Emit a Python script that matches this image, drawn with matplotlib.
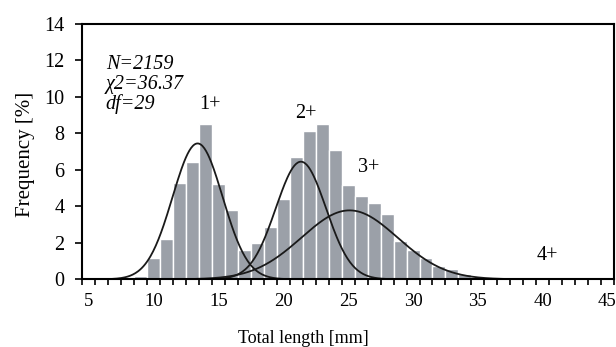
import matplotlib.pyplot as plt
import numpy as np

# length classes [mm] and observed frequency [%]
lengths = [9, 10, 11, 12, 13, 14, 15, 16, 17, 18, 19, 20, 21, 22, 23, 24,
           25, 26, 27, 28, 29, 30, 31, 32, 33, 34, 35, 36]
freq = [0.18, 1.17, 2.22, 5.28, 6.43, 8.51, 5.22, 3.80, 1.60, 2.00, 2.87, 4.40,
        6.70, 8.13, 8.51, 7.09, 5.17, 4.57, 4.18, 3.58, 2.10, 1.61, 1.15, 0.73,
        0.57, 0.29, 0.13, 0.05]

# fitted age groups (mean, sd, peak height in %)
groups = ['1+', '2+', '3+', '4+']
means = [13.38, 21.35, 25.1, 40.0]
sds = [1.93, 1.93, 3.7, 2.0]
peaks = [7.45, 6.45, 3.78, 0.02]
label_pos = [(14.3, 9.6), (21.7, 9.1), (26.6, 6.15), (40.4, 1.33)]

stats = ['N=2159', 'χ2=36.37', 'df=29']

plt.rcParams['font.family'] = ['Liberation Serif', 'DejaVu Serif']

fig = plt.figure(figsize=(6.16, 3.47), dpi=100)
ax = fig.add_axes([0.1339, 0.1951, 0.8628, 0.7357])

ax.bar(lengths, freq, width=1.0, color='#9ba0a8', edgecolor='white', linewidth=1.0)

x = np.linspace(4.5, 45.3, 600)
for m, s, p in zip(means, sds, peaks):
    ax.plot(x, p * np.exp(-(x - m) ** 2 / (2 * s ** 2)), color='#1a1a1a', lw=1.3)

for g, (gx, gy) in zip(groups, label_pos):
    ax.text(gx, gy, g, ha='center', va='center', fontsize=14.5)

for i, s in enumerate(stats):
    ax.text(6.3, 11.8 - i * 1.1, s, ha='left', va='center', fontsize=14.5, style='italic')

ax.set_xlim(4.5, 45.5)
ax.set_ylim(0, 14)
ax.set_xticks(range(5, 46, 5))
ax.set_xticks(np.arange(4.5, 45.6, 1), minor=True)
ax.tick_params(axis='x', which='major', length=0, pad=10, labelsize=13.5)
ax.tick_params(axis='x', which='minor', length=4, width=1.2, direction='out')
ax.set_yticks(range(0, 15, 2))
ax.tick_params(axis='y', length=5, width=1.2, direction='out', pad=8, labelsize=14.5)

for sp in ax.spines.values():
    sp.set_linewidth(1.5)

ax.set_xlabel('Total length [mm]', fontsize=13)
ax.xaxis.set_label_coords(0.415, -0.2)
ax.set_ylabel('Frequency [%]', fontsize=15)
ax.yaxis.set_label_coords(-0.09, 0.49)

fig.savefig('out.png', dpi=100)
